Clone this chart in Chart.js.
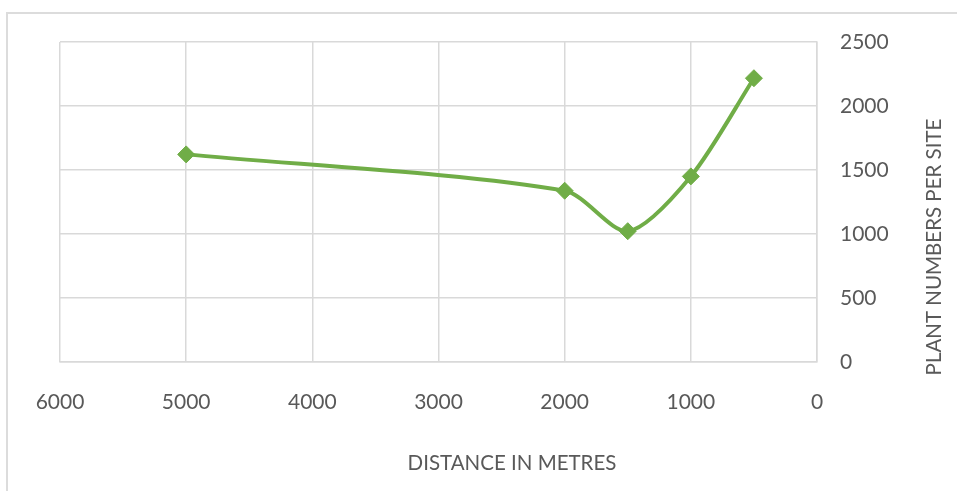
<!DOCTYPE html>
<html>
<head>
<meta charset="utf-8">
<script src="https://cdn.jsdelivr.net/npm/chart.js@4/dist/chart.umd.min.js"></script>
<style>
  html, body { margin: 0; padding: 0; background: #fff; }
  #wrap { position: relative; width: 957px; height: 491px; }
  #frame { position: absolute; left: 6px; top: 12px; right: 0; bottom: 0;
           border-top: 2px solid #dcdcdc; border-left: 2px solid #dcdcdc; }
  canvas { position: absolute; left: 0; top: 0; }
</style>
</head>
<body>
<div id="wrap">
  <div id="frame"></div>
  <canvas id="c" width="957" height="491"></canvas>
</div>
<script>
const distances = [5000, 2000, 1500, 1000, 500];
const plantNumbers = [1622, 1338, 1022, 1450, 2217];
const xTicks = [6000, 5000, 4000, 3000, 2000, 1000, 0];
const yTicks = [0, 500, 1000, 1500, 2000, 2500];
const xTitle = 'DISTANCE IN METRES';
const yTitle = 'PLANT NUMBERS PER SITE';

const textColor = '#595959';
const gridColor = '#d9d9d9';
const green = '#70AD47';
const fontFamily = 'Lato, "Open Sans", sans-serif';

const titlesPlugin = {
  id: 'customTitles',
  afterDraw(chart) {
    const ctx = chart.ctx;
    ctx.save();
    ctx.fillStyle = textColor;
    ctx.font = '20.5px ' + fontFamily;
    ctx.textAlign = 'center';
    ctx.textBaseline = 'middle';
    ctx.fillText(xTitle, 512, 463);
    ctx.translate(934, 247);
    ctx.rotate(-Math.PI / 2);
    ctx.fillText(yTitle, 0, 0);
    ctx.restore();
  }
};

new Chart(document.getElementById('c'), {
  type: 'scatter',
  data: {
    datasets: [{
      data: distances.map((d, i) => ({ x: d, y: plantNumbers[i] })),
      showLine: true,
      borderColor: green,
      backgroundColor: green,
      borderWidth: 4,
      tension: 0.28,
      pointStyle: 'rectRot',
      pointRadius: 8.5,
      pointBorderWidth: 1,
      pointBorderColor: green,
      pointBackgroundColor: green
    }]
  },
  options: {
    responsive: false,
    animation: false,
    devicePixelRatio: 1,
    layout: { padding: { left: 60, top: 42, right: 0, bottom: 0 } },
    plugins: { legend: { display: false }, tooltip: { enabled: false } },
    scales: {
      x: {
        type: 'linear',
        reverse: true,
        min: 0, max: 6000,
        afterBuildTicks(scale) { scale.ticks = xTicks.map(v => ({ value: v })); },
        afterFit(scale) { scale.height = 129; },
        grid: { color: gridColor, lineWidth: 1.5, drawTicks: false },
        border: { display: true, color: gridColor, width: 1.5 },
        ticks: { color: textColor, font: { family: fontFamily, size: 21 }, padding: 28, maxRotation: 0,
                 callback: v => String(v) }
      },
      y: {
        type: 'linear',
        position: 'right',
        min: 0, max: 2500,
        afterBuildTicks(scale) { scale.ticks = yTicks.map(v => ({ value: v })); },
        afterFit(scale) { scale.width = 140; },
        grid: { color: gridColor, lineWidth: 1.5, drawTicks: false },
        border: { display: true, color: gridColor, width: 1.5 },
        ticks: { color: textColor, font: { family: fontFamily, size: 21 }, padding: 23,
                 callback: v => String(v) }
      }
    }
  },
  plugins: [titlesPlugin]
});
</script>
</body>
</html>
